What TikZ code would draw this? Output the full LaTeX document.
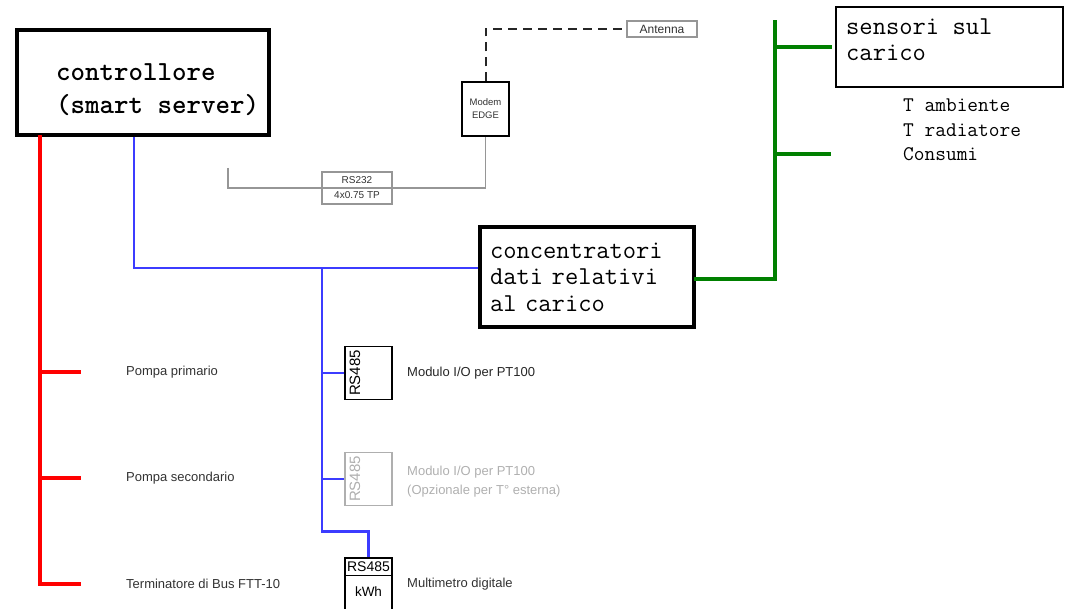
\documentclass[tikz,border=0pt]{standalone}
\usepackage{fontspec}
\setmainfont{Liberation Sans}

\definecolor{busred}{RGB}{255,0,0}
\definecolor{busblue}{RGB}{60,60,255}
\definecolor{busgreen}{RGB}{0,128,0}
\definecolor{wiregrey}{RGB}{150,150,150}
\definecolor{optgrey}{RGB}{175,175,175}
\definecolor{labelgrey}{RGB}{50,50,50}

\tikzset{
  bigbox/.style = {draw, line width=3.5pt, inner sep=0pt},
  thinbox/.style = {draw, line width=1.2pt, inner sep=0pt},
  devbox/.style = {draw, line width=1.3pt, inner sep=0pt, minimum width=47pt, minimum height=53pt},
  greybox/.style = {draw=wiregrey, line width=1.3pt, inner sep=0pt, text=labelgrey, align=center},
  redbus/.style = {draw=busred, line width=4pt, line cap=rect},
  bluebus/.style = {draw=busblue, line width=2.5pt},
  greenbus/.style = {draw=busgreen, line width=4pt, line cap=rect},
  greywire/.style = {draw=wiregrey, line width=1.8pt},
  dashwire/.style = {draw=black!85, line width=2pt, dash pattern=on 9pt off 6pt},
  monotext/.style = {inner sep=0pt, align=left, anchor=west},
  sanslabel/.style = {inner sep=0pt, align=left, anchor=west, text=labelgrey, font=\fontsize{13}{19}\selectfont},
  tag485/.style = {rotate=90, inner sep=0pt, font=\fontsize{15}{15}\selectfont},
}

\begin{document}
\begin{tikzpicture}[x=1pt, y=-1pt]
\useasboundingbox (0,0) rectangle (1066,609);

% main boxes
\node[bigbox, minimum width=252pt, minimum height=105pt] (ctrl) at (143,82.5) {};
\node[monotext, font=\ttfamily\bfseries\fontsize{27.6}{33}\selectfont] (ctrltxt) at (56,89.5) {controllore\\(smart server)};
\node[bigbox, minimum width=214pt, minimum height=100pt, text width=194pt, inner xsep=10pt, align=left,
      font=\ttfamily\fontsize{25.8}{26.5}\selectfont] (conc) at (587,277) {concentratori\\dati relativi\\al carico};
\node[thinbox, minimum width=227pt, minimum height=80pt] (sens) at (949.5,47) {};
\node[monotext, font=\ttfamily\fontsize{25.8}{26}\selectfont] (senstxt) at (846,40) {sensori sul\\carico};
\node[monotext, font=\ttfamily\fontsize{20.8}{24.5}\selectfont] (loads) at (903,130) {T ambiente\\T radiatore\\Consumi};

% modem and antenna
\node[devbox, minimum height=54pt, align=center, text=labelgrey, font=\fontsize{9.5}{13}\selectfont] (modem) at (485.5,109) {Modem\\EDGE};
\node[greybox, minimum width=70pt, minimum height=16pt, font=\fontsize{12}{14}\selectfont] (ant) at (662,29) {Antenna};
\node[greybox, minimum width=70pt, minimum height=32pt, font=\fontsize{10}{15}\selectfont] (rs232) at (357,188) {RS232\\4x0.75 TP};
\coordinate (rsend) at (228,168);
\draw[greywire] (rsend) |- (rs232.center) -| (modem.south);
\draw[dashwire] (modem.north) |- (ant.west);

% field devices
\node[devbox] (io1) at (368.5,373) {};
\node[tag485] (io1tag) at (355,373) {RS485};
\node[sanslabel, text=black!85] (io1lbl) at (407,373) {Modulo I/O per PT100};
\node[devbox, draw=optgrey] (io2) at (368.5,479) {};
\node[tag485, text=optgrey] (io2tag) at (355,479) {RS485};
\node[sanslabel, text=optgrey] (io2lbl) at (407,482) {Modulo I/O per PT100\\(Opzionale per T° esterna)};
\node[devbox, minimum height=56pt] (mm) at (368.5,586) {};
\draw[line width=1.3pt] ([yshift=-18pt]mm.north west) -- ([yshift=-18pt]mm.north east);
\node[inner sep=0pt, font=\fontsize{14}{14}\selectfont] (mmtag) at ([yshift=-9pt]mm.north) {RS485};
\node[inner sep=0pt, font=\fontsize{13.5}{14}\selectfont] (mmunit) at ([yshift=-34pt]mm.north) {kWh};
\node[sanslabel] (mmlbl) at (407,584) {Multimetro digitale};

% blue bus
\coordinate (bj) at (322,268);
\draw[bluebus] ([xshift=-9pt]ctrl.south) |- ([yshift=9pt]conc.west);
\draw[bluebus] (bj) |- ([yshift=26pt]mm.north) -- (mm.north);
\draw[bluebus] (io1.west) -- (io1.west -| bj);
\draw[bluebus] (io2.west) -- (io2.west -| bj);

% green bus
\coordinate (gtop) at (775,22);
\coordinate (gload) at (829,154);
\draw[greenbus] ([yshift=-2pt]conc.east) -| (gtop);
\draw[greenbus] ([xshift=-5pt]sens.west) -- (sens.west -| gtop);
\draw[greenbus] (gload) -- (gload -| gtop);

% red bus
\coordinate (rbot) at (40,584);
\draw[redbus] ([xshift=-103pt]ctrl.south) -- (rbot);
\foreach \n/\y/\txt in {pp/372/Pompa primario, ps/478/Pompa secondario, tb/584/Terminatore di Bus FTT-10}
{
  \node[sanslabel] (\n) at (126,\y) {\txt};
  \coordinate (\n stub) at (79,\y);
  \draw[redbus] (\n stub) -- (\n stub -| rbot);
}
\end{tikzpicture}
\end{document}
